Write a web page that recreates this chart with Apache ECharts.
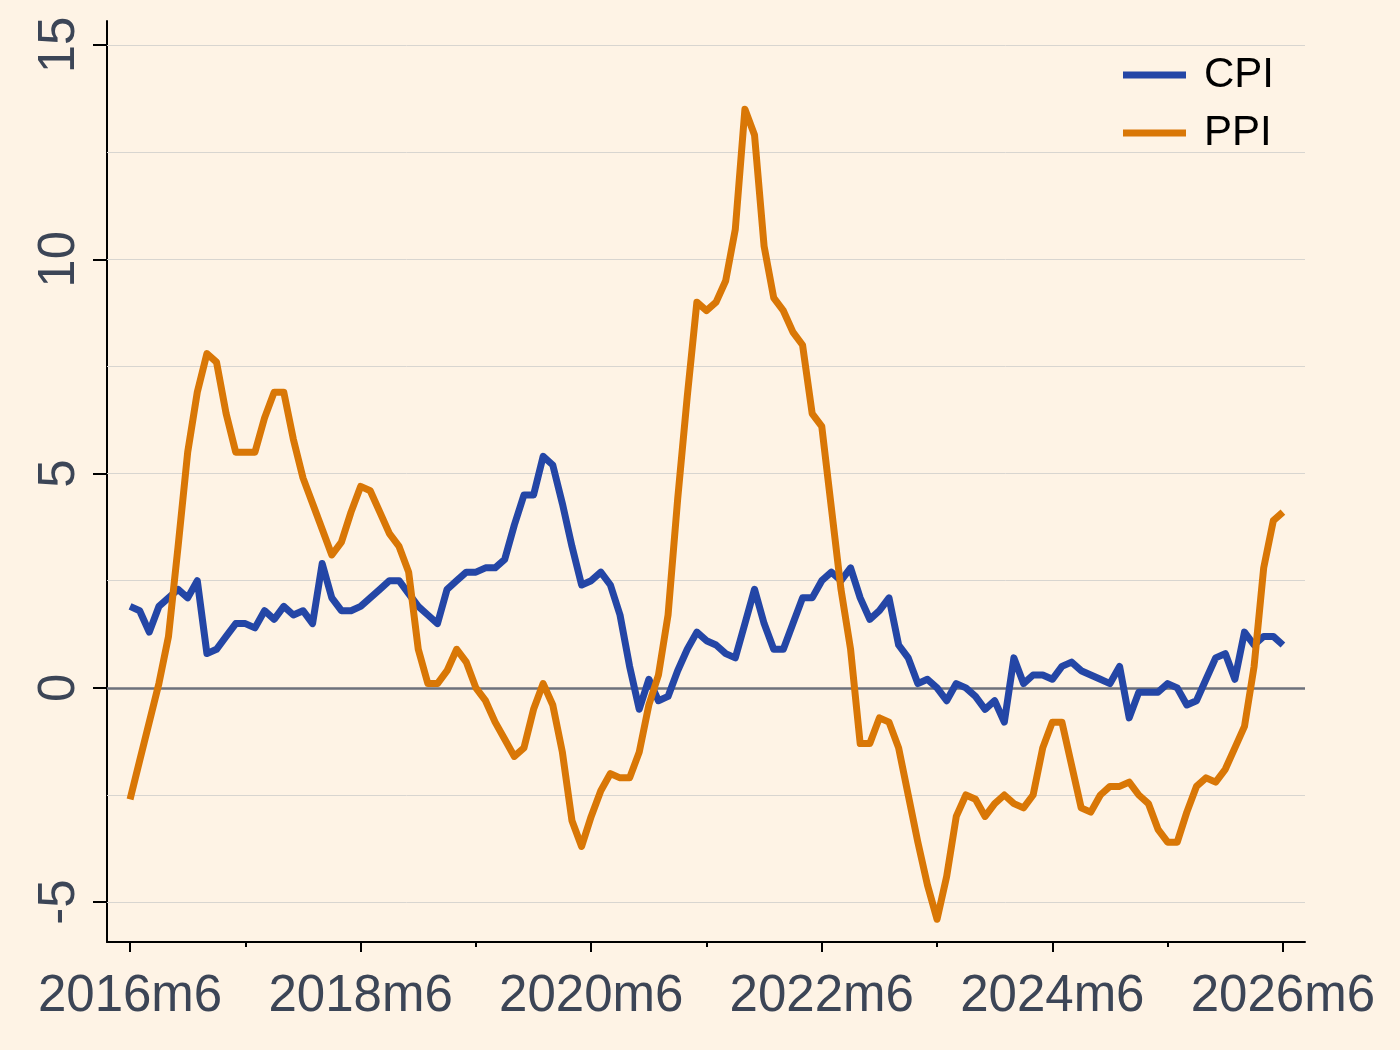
<!DOCTYPE html>
<html style="height: 100%">
<head>
    <meta charset="utf-8">
    <script type="text/javascript" src="https://cdn.jsdelivr.net/npm/echarts@6.0.0/dist/echarts.min.js"></script>
</head>
<body style="height: 100%; margin: 0; background: #fef3e5">
<div id="container" style="height: 1050px; width: 1400px"></div>
<script type="text/javascript">
    // monthly yoy, 2016m6 .. 2026m6 (index 0 = 2016m6)
    var cpi = [
        1.9, 1.8, 1.3, 1.9, 2.1, 2.3, 2.1,
        2.5, 0.8, 0.9, 1.2, 1.5, 1.5, 1.4, 1.8, 1.6, 1.9, 1.7, 1.8,
        1.5, 2.9, 2.1, 1.8, 1.8, 1.9, 2.1, 2.3, 2.5, 2.5, 2.2, 1.9,
        1.7, 1.5, 2.3, 2.5, 2.7, 2.7, 2.8, 2.8, 3.0, 3.8, 4.5, 4.5,
        5.4, 5.2, 4.3, 3.3, 2.4, 2.5, 2.7, 2.4, 1.7, 0.5, -0.5, 0.2,
        -0.3, -0.2, 0.4, 0.9, 1.3, 1.1, 1.0, 0.8, 0.7, 1.5, 2.3, 1.5,
        0.9, 0.9, 1.5, 2.1, 2.1, 2.5, 2.7, 2.5, 2.8, 2.1, 1.6, 1.8,
        2.1, 1.0, 0.7, 0.1, 0.2, 0.0, -0.3, 0.1, 0.0, -0.2, -0.5, -0.3,
        -0.8, 0.7, 0.1, 0.3, 0.3, 0.2, 0.5, 0.6, 0.4, 0.3, 0.2, 0.1,
        0.5, -0.7, -0.1, -0.1, -0.1, 0.1, 0.0, -0.4, -0.3, 0.2, 0.7, 0.8,
        0.2, 1.3, 1.0, 1.2, 1.2, 1.0
    ];
    var ppi = [
        -2.6, -1.7, -0.8, 0.1, 1.2, 3.3, 5.5,
        6.9, 7.8, 7.6, 6.4, 5.5, 5.5, 5.5, 6.3, 6.9, 6.9, 5.8, 4.9,
        4.3, 3.7, 3.1, 3.4, 4.1, 4.7, 4.6, 4.1, 3.6, 3.3, 2.7, 0.9,
        0.1, 0.1, 0.4, 0.9, 0.6, 0.0, -0.3, -0.8, -1.2, -1.6, -1.4, -0.5,
        0.1, -0.4, -1.5, -3.1, -3.7, -3.0, -2.4, -2.0, -2.1, -2.1, -1.5, -0.4,
        0.3, 1.7, 4.4, 6.8, 9.0, 8.8, 9.0, 9.5, 10.7, 13.5, 12.9, 10.3,
        9.1, 8.8, 8.3, 8.0, 6.4, 6.1, 4.2, 2.3, 0.9, -1.3, -1.3, -0.7,
        -0.8, -1.4, -2.5, -3.6, -4.6, -5.4, -4.4, -3.0, -2.5, -2.6, -3.0, -2.7,
        -2.5, -2.7, -2.8, -2.5, -1.4, -0.8, -0.8, -1.8, -2.8, -2.9, -2.5, -2.3,
        -2.3, -2.2, -2.5, -2.7, -3.3, -3.6, -3.6, -2.9, -2.3, -2.1, -2.2, -1.9,
        -1.4, -0.9, 0.5, 2.8, 3.9, 4.1
    ];
    var xTickLabels = ['2016m6', '2018m6', '2020m6', '2022m6', '2024m6', '2026m6'];
    var xMajorTicks = [0, 24, 48, 72, 96, 120];
    var xMinorTicks = [12, 36, 60, 84, 108];
    var yTicks = [-5, 0, 5, 10, 15];
    var yGrid = [-5, -2.5, 2.5, 5, 7.5, 10, 12.5, 15];

    var font = "'Liberation Sans', Arial, sans-serif";
    var textColor = '#3c4556';

    function pairs(arr) {
        return arr.map(function (v, i) { return [i, v]; });
    }

    var dom = document.getElementById("container");
    var myChart = echarts.init(dom, null, {renderer: 'canvas'});
    var option = {
        backgroundColor: '#fef3e5',
        animation: false,
        textStyle: {fontFamily: font},
        grid: {left: 107, right: 95, top: 21, bottom: 108},
        legend: {
            orient: 'vertical',
            left: 1118,
            top: 47,
            itemWidth: 63,
            itemHeight: 7,
            itemGap: 12,
            icon: 'rect',
            selectedMode: false,
            textStyle: {fontSize: 42, color: '#000', fontFamily: font, lineHeight: 46, padding: [0, 0, 0, 13]},
            data: ['CPI', 'PPI']
        },
        xAxis: [
            {
                type: 'value',
                min: -2.4,
                max: 122.3,
                position: 'bottom',
                axisLine: {onZero: false, lineStyle: {color: '#000', width: 2}},
                axisTick: {customValues: xMajorTicks, length: 10, lineStyle: {color: '#000', width: 2}},
                axisLabel: {
                    customValues: xMajorTicks,
                    fontSize: 51,
                    color: textColor,
                    margin: 29,
                    formatter: function (v) {
                        return xTickLabels[xMajorTicks.indexOf(Math.round(v))];
                    }
                },
                splitLine: {show: false}
            },
            {
                type: 'value',
                min: -2.4,
                max: 122.3,
                position: 'bottom',
                axisLine: {show: false, onZero: false},
                axisTick: {customValues: xMinorTicks, length: 5, lineStyle: {color: '#000', width: 2}},
                axisLabel: {show: false},
                splitLine: {show: false}
            }
        ],
        yAxis: {
            type: 'value',
            min: -5.93,
            max: 15.56,
            axisLine: {show: true, onZero: false, lineStyle: {color: '#000', width: 2}},
            axisTick: {show: true, customValues: yTicks, length: 14, lineStyle: {color: '#000', width: 2}},
            axisLabel: {
                customValues: yTicks,
                rotate: 90,
                fontSize: 51,
                color: textColor,
                margin: 22
            },
            splitLine: {show: false}
        },
        series: [
            {
                name: 'grid',
                type: 'line',
                data: [],
                silent: true,
                z: 1,
                markLine: {
                    silent: true,
                    z: 1,
                    symbol: 'none',
                    label: {show: false},
                    lineStyle: {color: '#d8d5d0', width: 1, type: 'solid'},
                    data: yGrid.map(function (v) { return {yAxis: v}; })
                }
            },
            {
                name: 'zero',
                type: 'line',
                data: [],
                silent: true,
                z: 1,
                markLine: {
                    silent: true,
                    z: 1,
                    symbol: 'none',
                    label: {show: false},
                    lineStyle: {color: '#6d717b', width: 2.5, type: 'solid'},
                    data: [{yAxis: 0}]
                }
            },
            {
                name: 'CPI',
                type: 'line',
                data: pairs(cpi),
                symbol: 'none',
                z: 3,
                color: '#2446a6',
                lineStyle: {width: 7, color: '#2446a6', join: 'round'}
            },
            {
                name: 'PPI',
                type: 'line',
                data: pairs(ppi),
                symbol: 'none',
                z: 3,
                color: '#d97706',
                lineStyle: {width: 7, color: '#d97706', join: 'round'}
            }
        ]
    };
    myChart.setOption(option);
</script>
</body>
</html>
